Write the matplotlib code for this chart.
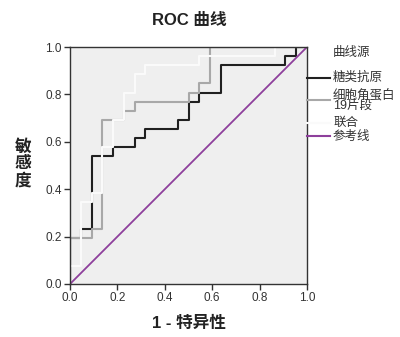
import numpy as np
import matplotlib
matplotlib.use('Agg')
import matplotlib.pyplot as plt
from matplotlib.lines import Line2D

plt.rcParams['font.family'] = ['Liberation Sans', 'Noto Sans CJK SC', 'DejaVu Sans']

# ROC 坐标（假阳性数 / 22 个阴性，真阳性数 / 26 个阳性）
n_neg = 22
n_pos = 26

ca_fp = [0, 0, 1, 1, 2, 2, 4, 4, 6, 6, 7, 7, 10, 10, 11, 11, 12, 12, 14, 14, 20, 20, 21, 21, 22]
ca_tp = [0, 5, 5, 6, 6, 14, 14, 15, 15, 16, 16, 17, 17, 18, 18, 20, 20, 21, 21, 24, 24, 25, 25, 26, 26]

cyfra_fp = [0, 0, 2, 2, 3, 3, 5, 5, 6, 6, 11, 11, 12, 12, 13, 13, 22]
cyfra_tp = [0, 5, 5, 6, 6, 18, 18, 19, 19, 20, 20, 21, 21, 22, 22, 26, 26]

comb_fp = [0, 0, 1, 1, 2, 2, 3, 3, 4, 4, 5, 5, 6, 6, 7, 7, 12, 12, 19, 19, 22]
comb_tp = [0, 2, 2, 9, 9, 10, 10, 15, 15, 18, 18, 21, 21, 23, 23, 24, 24, 25, 25, 26, 26]

ref_x = [0, 1]
ref_y = [0, 1]

labels = ['糖类抗原', '细胞角蛋白', '联合', '参考线']
colors = ['#202020', '#a8a8a8', '#fafafa', '#8e3f9c']

fig = plt.figure(figsize=(4, 3.37), dpi=100)
ax = fig.add_axes([70 / 400, 1 - 284 / 337, 237 / 400, 237 / 337])
ax.set_facecolor('#efefef')

ax.plot(np.array(ca_fp) / n_neg, np.array(ca_tp) / n_pos, color=colors[0], lw=1.5)
ax.plot(np.array(cyfra_fp) / n_neg, np.array(cyfra_tp) / n_pos, color=colors[1], lw=1.5)
ax.plot(np.array(comb_fp) / n_neg, np.array(comb_tp) / n_pos, color=colors[2], lw=1.5)
ax.plot(ref_x, ref_y, color=colors[3], lw=1.3)

ax.set_xlim(0, 1)
ax.set_ylim(0, 1)
ticks = [0.0, 0.2, 0.4, 0.6, 0.8, 1.0]
ax.set_xticks(ticks)
ax.set_yticks(ticks)
ax.set_xticklabels(['%.1f' % t for t in ticks])
ax.set_yticklabels(['%.1f' % t for t in ticks])
ax.tick_params(direction='out', length=4, width=1, labelsize=8.5, colors='#333333', pad=2)
for s in ax.spines.values():
    s.set_color('#333333')
    s.set_linewidth(1)

# 标题和轴标签
fig.text(189 / 400, 1 - 20 / 337, 'ROC 曲线', ha='center', va='center', fontsize=12, fontweight='bold', color='#222222')
fig.text(189 / 400, 1 - 323 / 337, '1 - 特异性', ha='center', va='center', fontsize=12, fontweight='bold', color='#222222')
fig.text(23 / 400, 1 - 164 / 337, '敏\n感\n度', ha='center', va='center', fontsize=12, fontweight='bold',
         color='#222222', linespacing=1.1)

# 图例
fig.text(333 / 400, 1 - 53 / 337, '曲线源', ha='left', va='center', fontsize=9, color='#333333')
line_y = [78, 100, 123, 136]
text_y = [78, 95, 123, 137]
for lab, c, ly, ty in zip(labels, colors, line_y, text_y):
    fig.add_artist(Line2D([307 / 400, 330 / 400], [1 - ly / 337, 1 - ly / 337], color=c, lw=1.5))
    fig.text(333 / 400, 1 - ty / 337, lab, ha='left', va='center', fontsize=9, color='#333333')
fig.text(333 / 400, 1 - 106 / 337, '19片段', ha='left', va='center', fontsize=9, color='#333333')

fig.savefig('out.png', dpi=100)
